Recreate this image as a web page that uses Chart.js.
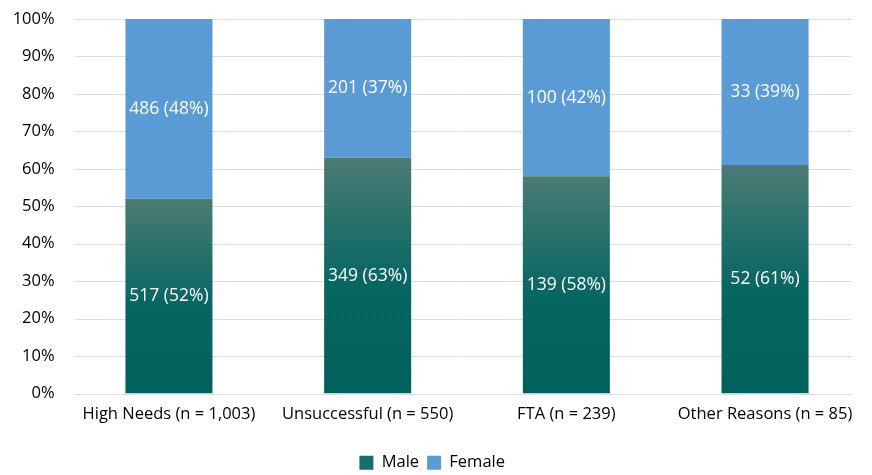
<!DOCTYPE html>
<html>
<head>
<meta charset="utf-8">
<script src="https://cdn.jsdelivr.net/npm/chart.js@4"></script>
<style>
html,body{margin:0;padding:0;background:#fff;}
#wrap{width:872px;height:475px;}
</style>
</head>
<body>
<div id="wrap"><canvas id="c" width="872" height="475"></canvas></div>
<script>
const categories = ["High Needs (n = 1,003)", "Unsuccessful (n = 550)", "FTA (n = 239)", "Other Reasons (n = 85)"];
const maleCounts = [517, 349, 139, 52];
const femaleCounts = [486, 201, 100, 33];
const malePct = [52, 63, 58, 61];
const femalePct = [48, 37, 42, 39];
const yTicks = [0,10,20,30,40,50,60,70,80,90,100];

const FONT = "'Open Sans', 'Noto Sans', sans-serif";

function maleGradient(ctx) {
  const chart = ctx.chart;
  const area = chart.chartArea;
  if (!area) return '#00625e';
  const y = chart.scales.y;
  const v = ctx.raw == null ? 0 : ctx.raw;
  const y0 = y.getPixelForValue(0);
  const y1 = y.getPixelForValue(v);
  const g = chart.ctx.createLinearGradient(0, y0, 0, y1);
  g.addColorStop(0, '#00605c');
  g.addColorStop(0.45, '#056662');
  g.addColorStop(1, '#4b7b74');
  return g;
}

// horizontal gridlines drawn from the y scale's own tick pixels, over a slightly inset span
const gridPlugin = {
  id: 'insetGrid',
  beforeDatasetsDraw(chart) {
    const c = chart.ctx, y = chart.scales.y, a = chart.chartArea;
    c.save();
    c.strokeStyle = '#dadde2';
    c.lineWidth = 1;
    y.ticks.forEach(t => {
      const py = Math.round(y.getPixelForValue(t.value)) + 0.5;
      c.beginPath();
      c.moveTo(a.left + 5.5, py);
      c.lineTo(a.right - 12.5, py);
      c.stroke();
    });
    c.restore();
  }
};

const labelPlugin = {
  id: 'segLabels',
  afterDatasetsDraw(chart) {
    const c = chart.ctx;
    c.save();
    c.font = "17.5px " + FONT;
    c.fillStyle = '#ffffff';
    c.textAlign = 'center';
    c.textBaseline = 'middle';
    chart.data.datasets.forEach((ds, di) => {
      const meta = chart.getDatasetMeta(di);
      meta.data.forEach((bar, i) => {
        const cnt = ds.counts[i];
        const pct = ds.data[i];
        const yc = (bar.y + bar.base) / 2;
        c.fillText(cnt + ' (' + pct + '%)', bar.x, yc);
      });
    });
    c.restore();
  }
};

new Chart(document.getElementById('c'), {
  type: 'bar',
  data: {
    labels: categories,
    datasets: [
      { label: 'Male', data: malePct, counts: maleCounts, backgroundColor: maleGradient, borderWidth: 0, categoryPercentage: 1, barPercentage: 0.438 },
      { label: 'Female', data: femalePct, counts: femaleCounts, backgroundColor: '#5b9bd5', borderWidth: 0, categoryPercentage: 1, barPercentage: 0.438 }
    ]
  },
  options: {
    responsive: false,
    animation: false,
    devicePixelRatio: 1,
    layout: { padding: { left: 0, right: 7.6, top: 19, bottom: -6 } },
    scales: {
      x: {
        stacked: true,
        grid: { display: false, drawTicks: false },
        border: { display: false },
        afterFit: (s) => { s.height = 53; },
        ticks: { color: '#000', font: { family: FONT, size: 16.5 }, padding: 11, maxRotation: 0, autoSkip: false }
      },
      y: {
        stacked: true,
        min: 0, max: 100,
        afterBuildTicks: (s) => { s.ticks = yTicks.map(v => ({ value: v })); },
        afterFit: (s) => { s.width = 69.6; s.paddingTop = 0; s.paddingBottom = 0; },
        grid: { display: false, drawTicks: false },
        border: { display: false },
        ticks: { color: '#000', font: { family: FONT, size: 16.5 }, padding: 15, callback: v => v + '%' }
      }
    },
    plugins: {
      legend: {
        position: 'bottom',
        labels: {
          color: '#000',
          font: { family: FONT, size: 16.5 },
          boxWidth: 14, boxHeight: 14, padding: 8,
          generateLabels: (chart) => [
            { text: 'Male', fillStyle: '#1a6e69', strokeStyle: '#1a6e69', lineWidth: 0, datasetIndex: 0 },
            { text: 'Female', fillStyle: '#5b9bd5', strokeStyle: '#5b9bd5', lineWidth: 0, datasetIndex: 1 }
          ]
        }
      },
      tooltip: { enabled: false }
    }
  },
  plugins: [gridPlugin, labelPlugin]
});
</script>
</body>
</html>
